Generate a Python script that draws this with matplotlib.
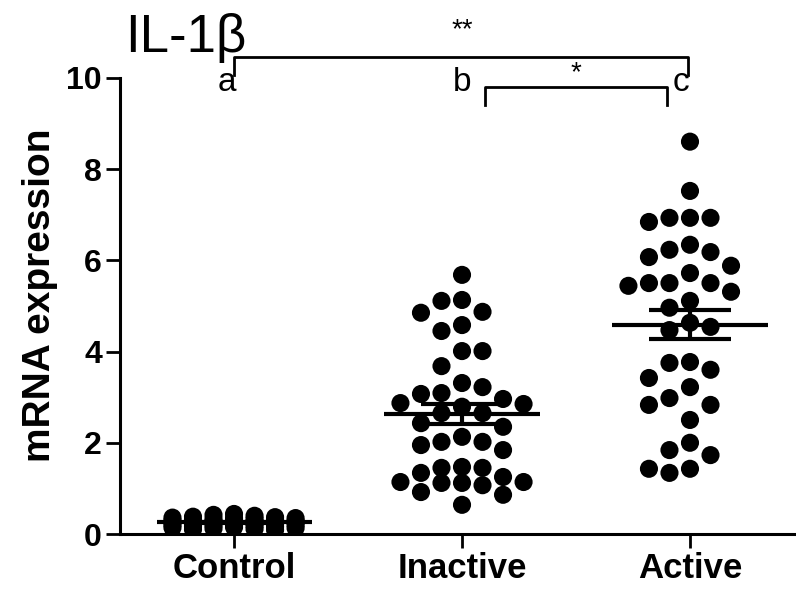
import numpy as np
import matplotlib
matplotlib.use('Agg')
import matplotlib.pyplot as plt

# Groups and Measured Values (mRNA expression)
groups = ['Control', 'Inactive', 'Active']
letters = ['a', 'b', 'c']

control = [0.44, 0.42, 0.40, 0.38, 0.37, 0.36, 0.35, 0.35, 0.33, 0.33,
           0.32, 0.31, 0.30, 0.30, 0.29, 0.28, 0.28, 0.27, 0.27, 0.26,
           0.25, 0.25, 0.24, 0.23, 0.22, 0.22, 0.21, 0.20, 0.20, 0.19,
           0.18, 0.17, 0.16, 0.15, 0.14, 0.13, 0.12, 0.11, 0.10, 0.09]

inactive = [5.68, 5.11, 5.13, 4.87, 4.85, 4.58, 4.45, 4.01, 4.01, 3.68,
            3.31, 3.22, 3.07, 3.09, 2.85, 2.87, 2.96, 2.79, 2.65, 2.65,
            2.43, 2.35, 2.13, 2.02, 1.84, 1.95, 2.02, 1.45, 1.47, 1.45,
            1.34, 1.14, 1.14, 0.92, 1.12, 1.12, 0.86, 1.25, 1.07, 0.64]

active = [8.60, 7.52, 6.93, 6.93, 6.84, 6.93, 6.34, 6.18, 6.23, 6.07,
          5.88, 5.72, 5.50, 5.44, 5.31, 5.50, 5.50, 5.11, 4.96, 4.54,
          4.47, 4.63, 3.75, 3.77, 3.60, 3.42, 3.22, 2.83, 2.50, 2.83,
          2.98, 2.00, 1.84, 1.73, 1.43, 1.34, 1.43]

plt.rcParams['font.family'] = ['Liberation Sans', 'DejaVu Sans']

# Column Scatter Offsets (Prism Style Grid)
def swarm_offsets(values, step, min_gap, max_cols=3):
  values = np.asarray(values)
  order = np.argsort(values)[::-1]
  cols = [0]
  for k in range(1, max_cols + 1):
    cols += [-k, k]
  placed = {}
  offsets = np.zeros(len(values))
  for i in order:
    y = values[i]
    best_col, best_gap = 0, -1.0
    for c in cols:
      gap = min([abs(y - v) for v in placed.get(c, [])], default=np.inf)
      if gap >= min_gap:
        best_col = c
        break
      if gap > best_gap:
        best_col, best_gap = c, gap
    placed.setdefault(best_col, []).append(y)
    offsets[i] = best_col * step
  return offsets

fig = plt.figure(figsize=(7.96, 5.91), dpi=100)
ax = fig.add_axes([0.1508, 0.0964, 0.8492, 0.772])

# Dots, Mean and SEM
for i, vals in enumerate([control, inactive, active]):
  vals = np.asarray(vals)
  xs = i + swarm_offsets(vals, 0.09, 0.46)
  ax.scatter(xs, vals, s=170, color='black', edgecolors='none', zorder=2)
  mean = vals.mean()
  sem = vals.std(ddof=1) / np.sqrt(len(vals))
  ax.hlines(mean, i - 0.34, i + 0.34, color='black', lw=3, zorder=3)
  ax.hlines([mean - sem, mean + sem], i - 0.18, i + 0.18, color='black', lw=3, zorder=3)
  ax.vlines(i, mean - sem, mean + sem, color='black', lw=3, zorder=3)

ax.set_xlim(-0.5, 2.465)
ax.set_ylim(0, 10)
ax.set_xticks(range(len(groups)))
ax.set_xticklabels(groups)
ax.set_yticks([0, 2, 4, 6, 8, 10])
ax.tick_params(width=2, length=10, labelsize=23, pad=3)
ax.tick_params(axis='x', labelsize=25)
for lbl in ax.get_xticklabels() + ax.get_yticklabels():
  lbl.set_fontweight('bold')
for side in ['top', 'right']:
  ax.spines[side].set_visible(False)
for side in ['left', 'bottom']:
  ax.spines[side].set_linewidth(2.2)

# Group Letters and Significance Brackets
for x, t in zip([-0.03, 1.0, 1.96], letters):
  ax.text(x, 9.9, t, fontsize=24, ha='center', va='center')
ax.plot([0, 0, 1.99, 1.99], [10.07, 10.46, 10.46, 10.07], color='black', lw=2, clip_on=False)
ax.plot([1.1, 1.1, 1.9, 1.9], [9.41, 9.8, 9.8, 9.41], color='black', lw=2, clip_on=False)
ax.text(1.0, 11.05, '**', fontsize=20, ha='center', va='center')
ax.text(1.5, 10.1, '*', fontsize=20, ha='center', va='center')

# Title and Y Label
fig.text(125 / 796, 1 - 38 / 591, 'IL-1β', fontsize=38, ha='left', va='center')
fig.text(40 / 796, 1 - 295 / 591, 'mRNA expression', fontsize=28, fontweight='bold',
         rotation=90, ha='center', va='center')

fig.savefig('out.png', dpi=100)
